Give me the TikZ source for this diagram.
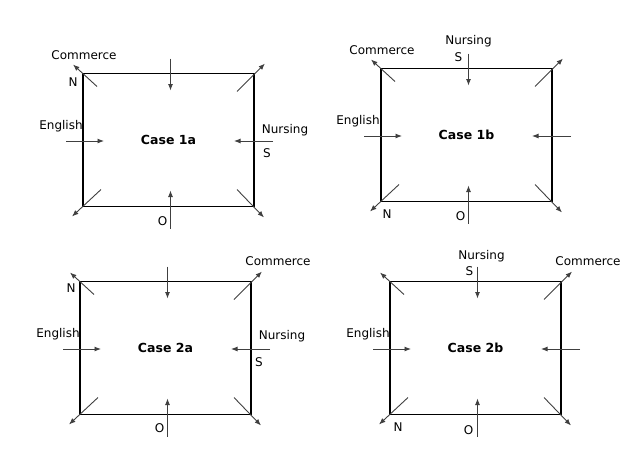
\documentclass[tikz,border=0pt]{standalone}
\usepackage{fontspec}
\setmainfont{DejaVu Sans}
\usetikzlibrary{arrows.meta,positioning}

\tikzset{
  casebox/.style={draw, line width=1.8pt, minimum width=171pt, minimum height=133pt,
    inner sep=0pt, outer sep=0pt, font=\bfseries\fontsize{12.5}{14}\selectfont},
  lbl/.style={anchor=center, font=\fontsize{12}{14}\selectfont, inner sep=0pt},
  flow/.style={->, color=black!75, line width=0.9pt},
}

\begin{document}
\begin{tikzpicture}[x=1pt,y=-1pt,>={Latex[length=6.5pt,width=5pt]}]
  \useasboundingbox (0,0) rectangle (628,453);
  \foreach \k/\x/\y in {1a/168.5/140, 1b/466.5/135, 2a/165.5/348, 2b/475.5/348}{
    \node[casebox] (case\k) at (\x,\y) {Case \k};
    \coordinate (c\k-top)   at ([xshift=2pt,yshift=15pt]case\k.north);
    \coordinate (c\k-topin) at ([xshift=2pt,yshift=-17pt]case\k.north);
    \coordinate (c\k-bot)   at ([xshift=2pt,yshift=-22pt]case\k.south);
    \coordinate (c\k-botin) at ([xshift=2pt,yshift=16pt]case\k.south);
    \coordinate (c\k-lft)   at ([xshift=-17pt,yshift=-1pt]case\k.west);
    \coordinate (c\k-lftin) at ([xshift=21pt,yshift=-1pt]case\k.west);
    \coordinate (c\k-rgt)   at ([xshift=19pt,yshift=-1pt]case\k.east);
    \coordinate (c\k-rgtin) at ([xshift=-20pt,yshift=-1pt]case\k.east);
    \coordinate (c\k-tl)    at ([xshift=-10pt,yshift=9pt]case\k.north west);
    \coordinate (c\k-tlin)  at ([xshift=14pt,yshift=-13pt]case\k.north west);
    \coordinate (c\k-tr)    at ([xshift=11pt,yshift=10pt]case\k.north east);
    \coordinate (c\k-trin)  at ([xshift=-17pt,yshift=-18pt]case\k.north east);
    \coordinate (c\k-bl)    at ([xshift=-11pt,yshift=-10pt]case\k.south west);
    \coordinate (c\k-blin)  at ([xshift=18pt,yshift=17pt]case\k.south west);
    \coordinate (c\k-br)    at ([xshift=10pt,yshift=-11pt]case\k.south east);
    \coordinate (c\k-brin)  at ([xshift=-17pt,yshift=17pt]case\k.south east);
    \path[flow]
    (c\k-top) edge (c\k-topin)
    (c\k-bot) edge (c\k-botin)
    (c\k-lft) edge (c\k-lftin)
    (c\k-rgt) edge (c\k-rgtin)
    (c\k-tlin) edge (c\k-tl)
    (c\k-trin) edge (c\k-tr)
    (c\k-blin) edge (c\k-bl)
    (c\k-brin) edge (c\k-br);
  }
  % case 1a
  \node[above right=9pt and 11pt of c1a-tl, lbl] (com1a) {Commerce};
  \node[below left=9pt and 10pt of case1a.north west, lbl] (n1a) {N};
  \node[above left=15pt and 5pt of c1a-lft, lbl] (eng1a) {English};
  \node[above right=11pt and 12pt of c1a-rgt, lbl] (nur1a) {Nursing};
  \node[below left=12pt and 6pt of c1a-rgt, lbl] (s1a) {S};
  \node[above left=7pt and 8pt of c1a-bot, lbl] (o1a) {O};
  % case 1b
  \node[above right=9pt and 11pt of c1b-tl, lbl] (com1b) {Commerce};
  \node[above=12pt of c1b-top, lbl] (nur1b) {Nursing};
  \node[below left=4pt and 10pt of c1b-top, lbl] (s1b) {S};
  \node[above left=15pt and 6pt of c1b-lft, lbl] (eng1b) {English};
  \node[below right=13pt and 6pt of case1b.south west, lbl] (n1b) {N};
  \node[above left=7pt and 8pt of c1b-bot, lbl] (o1b) {O};
  % case 2a
  \node[above right=10pt and 16pt of c2a-tr, lbl] (com2a) {Commerce};
  \node[below left=7pt and 9pt of case2a.north west, lbl] (n2a) {N};
  \node[above left=15pt and 5pt of c2a-lft, lbl] (eng2a) {English};
  \node[above right=13pt and 12pt of c2a-rgt, lbl] (nur2a) {Nursing};
  \node[below left=13pt and 11pt of c2a-rgt, lbl] (s2a) {S};
  \node[above left=8pt and 8pt of c2a-bot, lbl] (o2a) {O};
  % case 2b
  \node[above right=10pt and 4pt of c2b-top, lbl] (nur2b) {Nursing};
  \node[below left=5pt and 8pt of c2b-top, lbl] (s2b) {S};
  \node[above right=10pt and 16pt of c2b-tr, lbl] (com2b) {Commerce};
  \node[above left=15pt and 5pt of c2b-lft, lbl] (eng2b) {English};
  \node[below right=13pt and 8pt of case2b.south west, lbl] (n2b) {N};
  \node[above left=6pt and 9pt of c2b-bot, lbl] (o2b) {O};
\end{tikzpicture}
\end{document}
